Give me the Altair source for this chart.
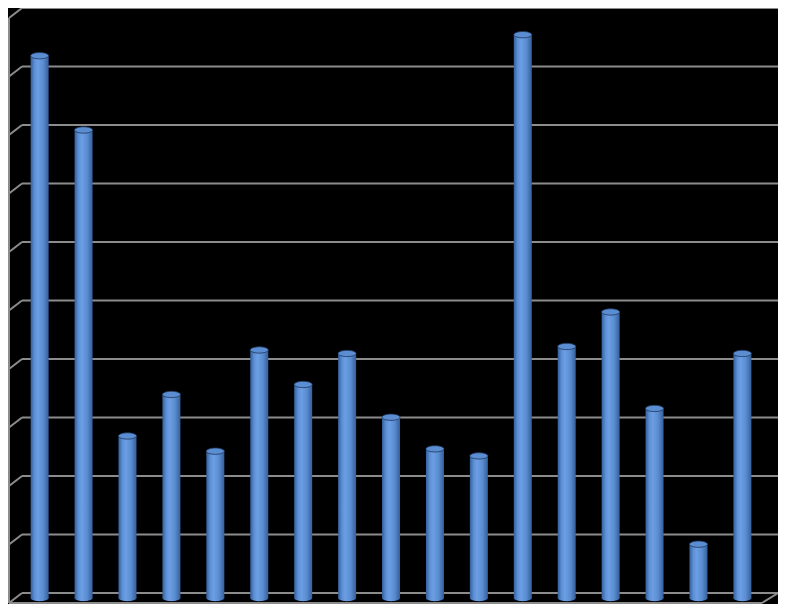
import altair as alt
import pandas as pd

# Data
categories = [str(i) for i in range(1, 18)]
values = [9.27, 8.0, 2.77, 3.48, 2.51, 4.24, 3.65, 4.18, 3.09, 2.55, 2.43, 9.63, 4.30, 4.89, 3.24, 0.92, 4.18]
grid_ticks = list(range(0, 11))

df = pd.DataFrame({"cat": categories, "idx": list(range(1, 18)), "value": values, "base": [0] * 17})
grid = pd.DataFrame({"g": grid_ticks})

W, H = 770, 596
xscale = alt.Scale(domain=[17.5 / 44.5, (W + 17.5) / 44.5], nice=False, zero=False)
yscale = alt.Scale(domain=[-11 / 58.5, 10], nice=False, zero=False)

GRID = "#8c8c8c"

back_grid = alt.Chart(grid).mark_rule(color=GRID, strokeWidth=2).encode(
    x=alt.value(14), x2=alt.value(770),
    y=alt.Y("g:Q", scale=yscale, axis=None),
)
left_diag = alt.Chart(grid).mark_rule(color=GRID, strokeWidth=2, yOffset=10, y2Offset=0).encode(
    x=alt.value(1), x2=alt.value(14),
    y=alt.Y("g:Q", scale=yscale, axis=None), y2="g:Q",
)
left_edge = alt.Chart(grid).mark_rule(color=GRID, strokeWidth=2, yOffset=10, y2Offset=10).encode(
    x=alt.value(1),
    y=alt.Y("min(g):Q", scale=yscale, axis=None), y2="max(g):Q",
)
front_edge = alt.Chart(grid).mark_rule(color=GRID, strokeWidth=2, yOffset=10).encode(
    x=alt.value(1), x2=alt.value(754),
    y=alt.Y("min(g):Q", scale=yscale, axis=None),
)
right_diag = alt.Chart(grid).mark_rule(color=GRID, strokeWidth=2, yOffset=10, y2Offset=0).encode(
    x=alt.value(754), x2=alt.value(770),
    y=alt.Y("min(g):Q", scale=yscale, axis=None), y2="min(g):Q",
)

grad = alt.Gradient(
    gradient="linear",
    stops=[
        alt.GradientStop(color="#34609b", offset=0),
        alt.GradientStop(color="#5d90d6", offset=0.22),
        alt.GradientStop(color="#6b9ee2", offset=0.4),
        alt.GradientStop(color="#5a8cd1", offset=0.7),
        alt.GradientStop(color="#355f99", offset=1),
    ],
    x1=0, x2=1, y1=0, y2=0,
)

ellipse = ("M -1 0 C -1 -0.193 -0.552 -0.35 0 -0.35 C 0.552 -0.35 1 -0.193 1 0 "
           "C 1 0.193 0.552 0.35 0 0.35 C -0.552 0.35 -1 0.193 -1 0 Z")

bottom_cap = alt.Chart(df).mark_point(shape=ellipse, size=324, filled=True, fill=grad, opacity=1, yOffset=5).encode(
    x=alt.X("idx:Q", scale=xscale, axis=None),
    y=alt.Y("base:Q", scale=yscale, axis=None),
)
bars = alt.Chart(df).mark_bar(size=18, fill=grad, yOffset=5, y2Offset=5).encode(
    x=alt.X("idx:Q", scale=xscale, axis=None),
    y=alt.Y("value:Q", scale=yscale, axis=None),
    y2="base:Q",
)
top_cap = alt.Chart(df).mark_point(shape=ellipse, size=324, filled=True, fill="#5b8dd2",
                                   stroke="#1e3558", strokeWidth=0.8, opacity=1, yOffset=5).encode(
    x=alt.X("idx:Q", scale=xscale, axis=None),
    y=alt.Y("value:Q", scale=yscale, axis=None),
)

chart = alt.layer(
    back_grid, left_diag, left_edge, front_edge, right_diag, bottom_cap, bars, top_cap
).properties(
    width=W, height=H, background="black", padding=0,
    autosize=alt.AutoSizeParams(type="none"),
).configure_view(stroke=None)

chart.save("out.html", embed_options={"renderer": "svg", "actions": False})
